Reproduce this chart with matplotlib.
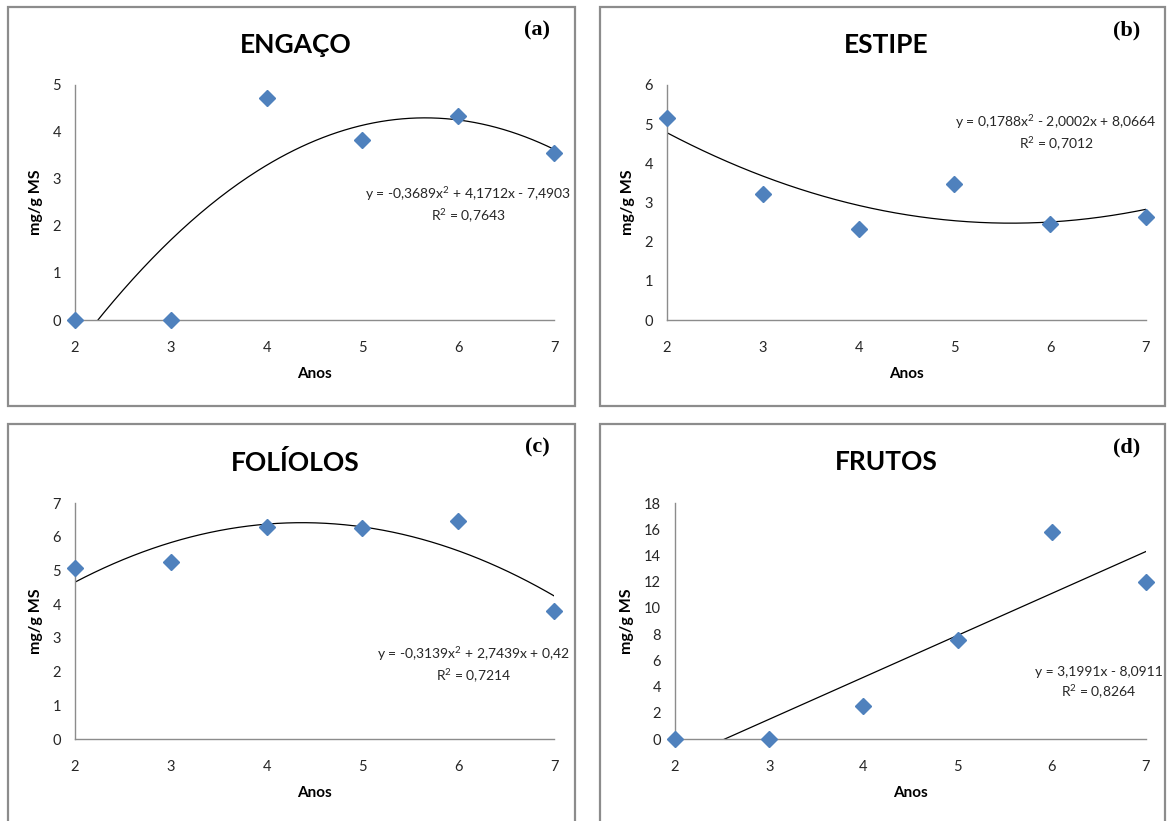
import numpy as np
import matplotlib.pyplot as plt
from matplotlib.patches import Rectangle

plt.rcParams['font.family'] = ['Lato', 'DejaVu Sans']
plt.rcParams['mathtext.default'] = 'regular'

anos = [2, 3, 4, 5, 6, 7]

engaco = [0, 0, 4.73, 3.83, 4.33, 3.56]
estipe = [5.17, 3.21, 2.33, 3.48, 2.45, 2.63]
foliolos = [5.07, 5.24, 6.29, 6.27, 6.47, 3.81]
frutos = [0, 0, 2.55, 7.53, 15.8, 11.94]

# trendline coefficients as printed on the chart (highest power first)
coef_engaco = [-0.3689, 4.1712, -7.4903]
coef_estipe = [0.1788, -2.0002, 8.0664]
coef_foliolos = [-0.3139, 2.7439, 0.42]
coef_frutos = [3.1991, -8.0911]

eq_engaco = 'y = -0,3689x$^2$ + 4,1712x - 7,4903\nR$^2$ = 0,7643'
eq_estipe = 'y = 0,1788x$^2$ - 2,0002x + 8,0664\nR$^2$ = 0,7012'
eq_foliolos = 'y = -0,3139x$^2$ + 2,7439x + 0,42\nR$^2$ = 0,7214'
eq_frutos = 'y = 3,1991x - 8,0911\nR$^2$ = 0,8264'

W, H = 1169, 821
fig = plt.figure(figsize=(W / 100, H / 100), dpi=100)


def box(x0, y0, x1, y1):
    fig.patches.append(Rectangle((x0 / W, 1 - y1 / H), (x1 - x0) / W, (y1 - y0) / H,
                                 transform=fig.transFigure, fill=False,
                                 edgecolor='#8c8c8c', linewidth=1.6))


def panel(rect, vals, coef, ymax, ystep, title, tag, eq, eqpos, boxrect):
    x0, y0, x1, y1 = rect
    ax = fig.add_axes([x0 / W, 1 - y1 / H, (x1 - x0) / W, (y1 - y0) / H])
    xs = np.linspace(2, 7, 200)
    ax.plot(xs, np.polyval(coef, xs), color='black', linewidth=0.9)
    ax.plot(anos, vals, linestyle='none', marker='D', markersize=8,
            color='#4f81bd', clip_on=False, zorder=5)
    ax.set_xlim(2, 7)
    ax.set_ylim(0, ymax)
    ax.set_xticks(anos)
    ax.set_yticks(np.arange(0, ymax + 0.1, ystep))
    for s in ['top', 'right']:
        ax.spines[s].set_visible(False)
    for s in ['left', 'bottom']:
        ax.spines[s].set_color('#8c8c8c')
        ax.spines[s].set_linewidth(1.0)
    ax.tick_params(axis='both', length=0, labelsize=10.5, colors='#262626')
    ax.tick_params(axis='x', pad=15)
    ax.tick_params(axis='y', pad=10)
    ax.set_xlabel('Anos', fontsize=11, fontweight='bold', labelpad=9)
    ax.set_ylabel('mg/g MS', fontsize=11.5, fontweight='bold', labelpad=7)
    ax.text(eqpos[0], eqpos[1], eq, ha='center', va='center', fontsize=10,
            color='#262626', linespacing=1.35)
    bx0, by0, bx1, by1 = boxrect
    box(bx0, by0, bx1, by1)
    fig.text(((bx0 + bx1) / 2 + 4) / W, 1 - (by0 + 38) / H, title, ha='center',
             va='center', fontsize=19, fontweight='bold')
    fig.text((bx1 - 38) / W, 1 - (by0 + 23) / H, tag, ha='center', va='center',
             fontsize=16, fontweight='bold', family='Liberation Serif')


panel((75, 85, 554, 320), engaco, coef_engaco, 5, 1, 'ENGAÇO', '(a)',
      eq_engaco, (6.1, 2.45), (8, 7, 575, 406))
panel((667, 85, 1146, 320), estipe, coef_estipe, 6, 1, 'ESTIPE', '(b)',
      eq_estipe, (6.06, 4.77), (600, 7, 1165, 406))
panel((75, 503, 554, 739), foliolos, coef_foliolos, 7, 1, 'FOLÍOLOS', '(c)',
      eq_foliolos, (6.16, 2.2), (8, 424, 575, 830))
panel((675, 503, 1146, 739), frutos, coef_frutos, 18, 2, 'FRUTOS', '(d)',
      eq_frutos, (6.5, 4.23), (600, 424, 1165, 830))

fig.savefig('out.png', dpi=100)
